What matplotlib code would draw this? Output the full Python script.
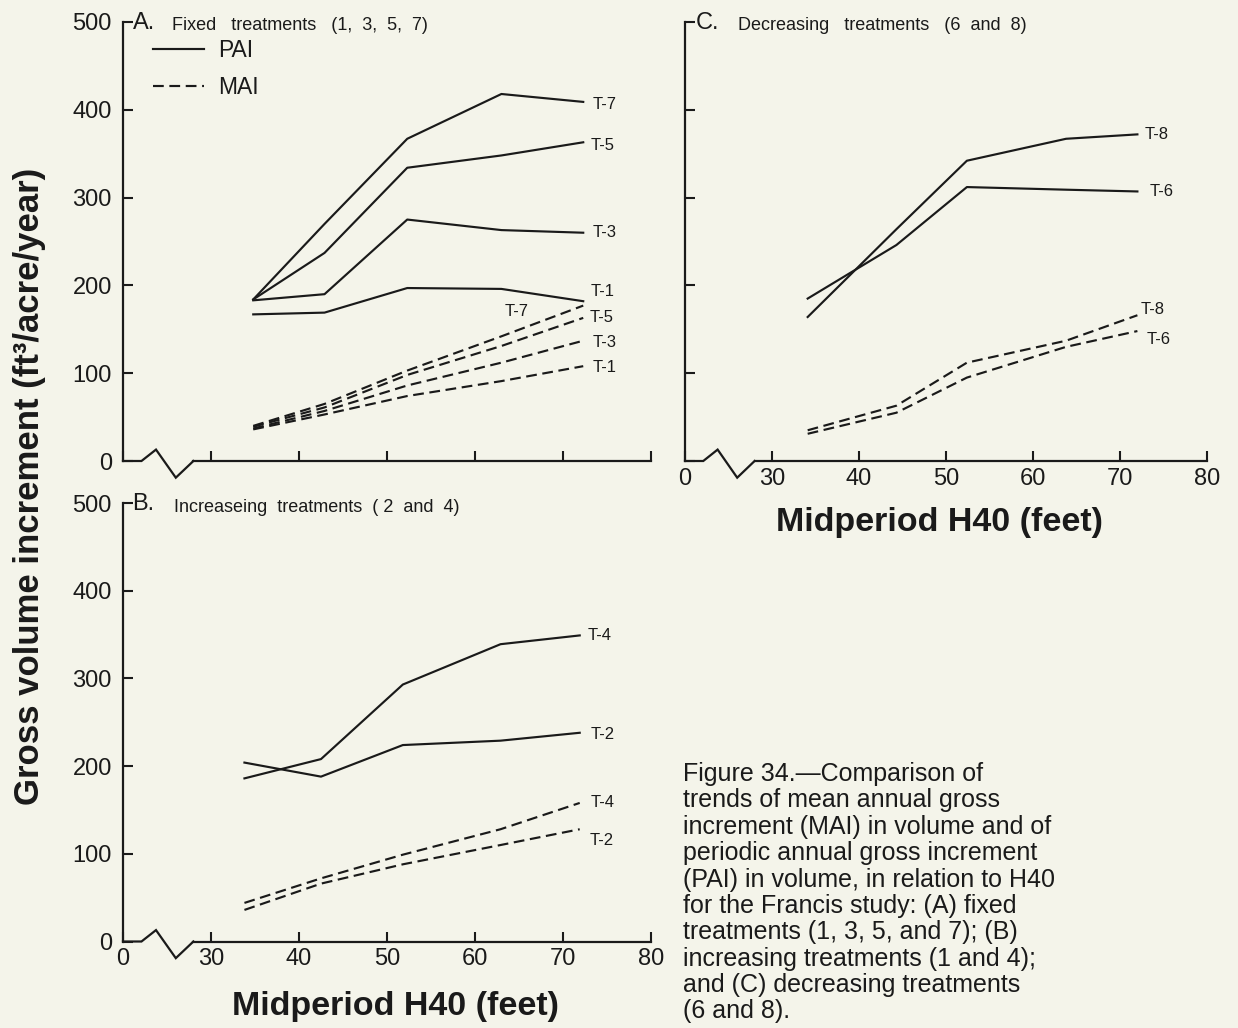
import matplotlib
matplotlib.use('Agg')
import matplotlib.pyplot as plt

BG = '#f4f4ea'
INK = '#1a1a1a'
plt.rcParams['font.family'] = ['Liberation Sans', 'DejaVu Sans']

# ---------------- data ----------------
# x: midperiod H40 (feet)
h40_a = [34.8, 42.9, 52.3, 63.0, 72.3]
pai_a_t7 = [184, 270, 367, 418, 409]
pai_a_t5 = [184, 237, 334, 348, 363]
pai_a_t3 = [183, 190, 275, 263, 260]
pai_a_t1 = [167, 169, 197, 196, 182]
mai_a_t7 = [40, 65, 103, 142, 177]
mai_a_t5 = [39, 61, 98, 131, 163]
mai_a_t3 = [37, 57, 86, 112, 137]
mai_a_t1 = [36, 53, 74, 91, 108]

h40_b = [33.8, 42.5, 51.8, 62.9, 71.9]
pai_b_t4 = [186, 208, 293, 339, 349]
pai_b_t2 = [204, 188, 224, 229, 238]
mai_b_t4 = [44, 72, 99, 128, 158]
mai_b_t2 = [36, 66, 88, 110, 128]

h40_c = [34.1, 44.3, 52.4, 63.8, 72.0]
pai_c_t8 = [164, 264, 342, 367, 372]
pai_c_t6 = [185, 246, 312, 309, 307]
mai_c_t8 = [35, 63, 112, 137, 166]
mai_c_t6 = [31, 55, 95, 130, 148]

x_tick_pos = [20, 30, 40, 50, 60, 70, 80]
x_tick_labels = ['0', '30', '40', '50', '60', '70', '80']
y_ticks = [0, 100, 200, 300, 400, 500]
y_tick_labels = ['0', '100', '200', '300', '400', '500']

# axis-break zigzag (decoration)
brk_x = [20, 22.1, 23.75, 26.0, 28.0]
brk_y = [0, 0, 13, -19, 0]

W, H = 1238, 1028
fig = plt.figure(figsize=(W / 100, H / 100), dpi=100, facecolor=BG)


def rect(x0, y0, x1, y1):
    return [x0 / W, 1 - y1 / H, (x1 - x0) / W, (y1 - y0) / H]


def fx(x):
    return x / W


def fy(y):
    return 1 - y / H


axA = fig.add_axes(rect(123, 22, 651, 461))
axB = fig.add_axes(rect(123, 503, 651, 941.5))
axC = fig.add_axes(rect(685, 22, 1207, 461))

LW = 1.6
DASH = (5, 2.6)
LABEL_FS = 12


def style(ax, xlabels, ylabels):
    ax.set_facecolor(BG)
    ax.patch.set_alpha(0)
    ax.set_xlim(20, 80)
    ax.set_ylim(0, 500)
    for s in ['top', 'right']:
        ax.spines[s].set_visible(False)
    for s in ['left', 'bottom']:
        ax.spines[s].set_linewidth(LW)
        ax.spines[s].set_color(INK)
    ax.spines['bottom'].set_bounds(28, 80)
    ax.set_xticks(x_tick_pos)
    ax.set_xticklabels(x_tick_labels if xlabels else [''] * len(x_tick_pos))
    ax.set_yticks(y_ticks)
    ax.set_yticklabels(y_tick_labels if ylabels else [''] * len(y_ticks))
    ax.tick_params(direction='in', length=7, width=1.5, colors=INK, labelsize=17)
    ax.tick_params(axis='x', pad=5)
    ax.tick_params(axis='y', pad=8)
    ax.plot(brk_x, brk_y, color=INK, lw=LW, clip_on=False, solid_joinstyle='miter')


def series(ax, x, y, dashed, label, dx, dy):
    if dashed:
        ln, = ax.plot(x, y, color=INK, lw=1.55, linestyle=(0, DASH))
    else:
        ln, = ax.plot(x, y, color=INK, lw=1.55)
    if label:
        ax.annotate(label, xy=(x[-1], y[-1]), xytext=(dx, dy), textcoords='offset points',
                    ha='left', va='center', fontsize=LABEL_FS, color=INK)
    return ln


style(axA, False, True)
style(axB, True, True)
style(axC, True, False)

# Panel A
pai_line = series(axA, h40_a, pai_a_t7, False, 'T-7', 7, -2)
series(axA, h40_a, pai_a_t5, False, 'T-5', 5.5, -2)
series(axA, h40_a, pai_a_t3, False, 'T-3', 7, 0)
series(axA, h40_a, pai_a_t1, False, 'T-1', 5.5, 7)
mai_line = series(axA, h40_a, mai_a_t7, True, None, 0, 0)
axA.annotate('T-7', xy=(h40_a[3], mai_a_t7[3]), xytext=(2.5, 18), textcoords='offset points',
             ha='left', va='center', fontsize=LABEL_FS, color=INK)
series(axA, h40_a, mai_a_t5, True, 'T-5', 4.5, 0)
series(axA, h40_a, mai_a_t3, True, 'T-3', 7, -1)
series(axA, h40_a, mai_a_t1, True, 'T-1', 7, -1)
leg = axA.legend([pai_line, mai_line], ['PAI', 'MAI'], loc='upper left',
                 bbox_to_anchor=(0.057, 0.962), frameon=False, fontsize=16.5,
                 handlelength=2.2, handletextpad=0.65, labelspacing=0.62,
                 borderaxespad=0, borderpad=0)
for t in leg.get_texts():
    t.set_color(INK)

# Panel B
series(axB, h40_b, pai_b_t4, False, 'T-4', 5.5, 0)
series(axB, h40_b, pai_b_t2, False, 'T-2', 8, -1)
series(axB, h40_b, mai_b_t4, True, 'T-4', 8, 0)
series(axB, h40_b, mai_b_t2, True, 'T-2', 7, -8)

# Panel C
series(axC, h40_c, pai_c_t8, False, 'T-8', 5, 0)
series(axC, h40_c, pai_c_t6, False, 'T-6', 9, 0)
series(axC, h40_c, mai_c_t8, True, 'T-8', 2.5, 4.5)
series(axC, h40_c, mai_c_t6, True, 'T-6', 7, -6)

# Panel titles
fig.text(fx(133), fy(23), 'A.', fontsize=17, color=INK, ha='left', va='center')
fig.text(fx(172), fy(26), 'Fixed   treatments   (1,  3,  5,  7)', fontsize=13, color=INK,
         ha='left', va='center')
fig.text(fx(132), fy(504), 'B.', fontsize=17, color=INK, ha='left', va='center')
fig.text(fx(174), fy(507), 'Increaseing  treatments  ( 2  and  4)', fontsize=13, color=INK,
         ha='left', va='center')
fig.text(fx(696), fy(23), 'C.', fontsize=17, color=INK, ha='left', va='center')
fig.text(fx(738), fy(26), 'Decreasing   treatments   (6  and  8)', fontsize=13, color=INK,
         ha='left', va='center')

# Axis titles
fig.text(fx(30), fy(486), 'Gross volume increment (ft³/acre/year)', rotation=90,
         fontsize=25, fontweight='bold', color=INK, ha='center', va='center')
fig.text(fx(395), fy(1006), 'Midperiod H40 (feet)', fontsize=24.5, fontweight='bold',
         color=INK, ha='center', va='center')
fig.text(fx(940), fy(523), 'Midperiod H40 (feet)', fontsize=24.5, fontweight='bold',
         color=INK, ha='center', va='center')

caption = ('Figure 34.\u2014Comparison of\n'
           'trends of mean annual gross\n'
           'increment (MAI) in volume and of\n'
           'periodic annual gross increment\n'
           '(PAI) in volume, in relation to H40\n'
           'for the Francis study: (A) fixed\n'
           'treatments (1, 3, 5, and 7); (B)\n'
           'increasing treatments (1 and 4);\n'
           'and (C) decreasing treatments\n'
           '(6 and 8).')
fig.text(fx(683), fy(762), caption, fontsize=18, color=INK, ha='left', va='top',
         linespacing=1.125)

fig.savefig('out.png', dpi=100, facecolor=BG)
